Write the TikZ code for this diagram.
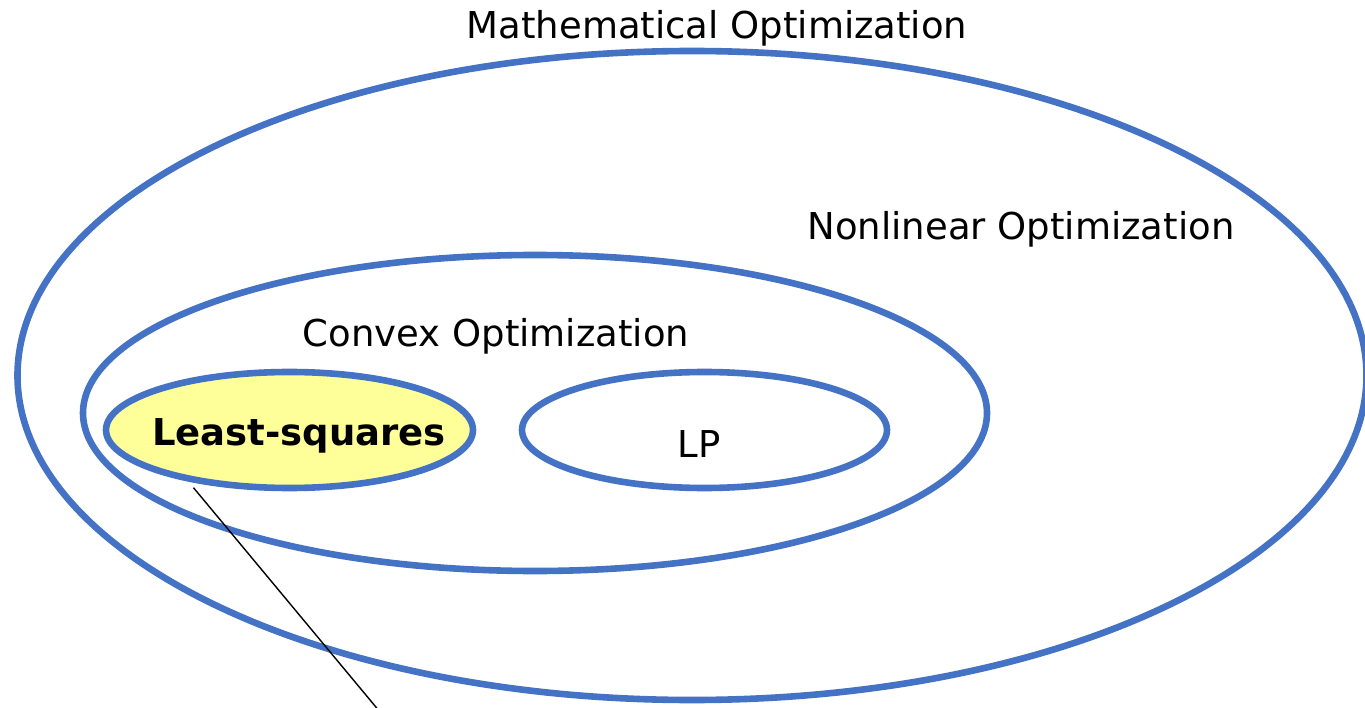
\documentclass[tikz,border=0pt]{standalone}
\usepackage{fontspec}
\setmainfont{DejaVu Sans}
\usetikzlibrary{shapes.geometric}
\definecolor{setblue}{HTML}{4472C4}
\definecolor{lsyellow}{HTML}{FFFF99}
\begin{document}
\begin{tikzpicture}[x=1pt,y=-1pt,
  setring/.style={ellipse, draw=setblue, line width=6.6pt, inner sep=0pt, fill=white},
  settext/.style={anchor=base, inner sep=0pt, font=\fontsize{37}{44}\selectfont},
  boldtext/.style={settext, font=\fontsize{37}{44}\selectfont\bfseries}]
\useasboundingbox (0,0) rectangle (1365,708);
\clip (0,0) rectangle (1365,708);
\fill[white] (0,0) rectangle (1365,708);
\node[setring, minimum width=1349pt, minimum height=649pt] (MO) at (692,375.5) {};
\node[setring, minimum width=904pt, minimum height=316pt] (CO) at (535,413) {};
\node[setring, fill=lsyellow, minimum width=367pt, minimum height=116pt] (LS) at (289.5,430) {};
\node[setring, minimum width=365pt, minimum height=116pt] (LP) at (704.5,430) {};
\node[settext] (tMO) at (717,39) {Mathematical Optimization};
\node[settext] (tNO) at (1021,240) {Nonlinear Optimization};
\node[settext] (tCO) at (496,347) {Convex Optimization};
\node[boldtext] (tLS) at (299,445) {Least-squares};
\node[settext] (tLP) at (699,457) {LP};
\coordinate (tail) at (395,730);
\draw[black, line width=1.4pt, shorten <=8pt] (LS.207) -- (tail);
\end{tikzpicture}
\end{document}
